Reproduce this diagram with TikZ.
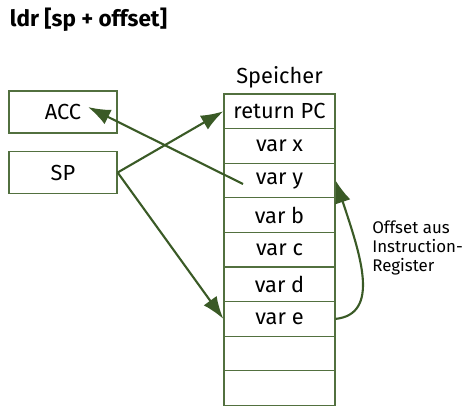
\documentclass[tikz,border=0pt]{standalone}
\usepackage{xcolor}
\usepackage{fontspec}
\setmainfont{Fira Sans}
\usetikzlibrary{arrows.meta,positioning}
\definecolor{arrgreen}{HTML}{3A5A26}
\definecolor{boxgreen}{HTML}{52703F}

\begin{document}
\begin{tikzpicture}[x=0.025cm,y=-0.025cm,
  regbox/.style={draw=boxgreen, line width=0.9pt, minimum width=2.7cm, minimum height=1.05cm, font=\fontsize{15.5}{17}\selectfont},
  cell/.style={draw=boxgreen, line width=0.9pt, minimum width=2.775cm, minimum height=0.865cm, inner sep=0pt, font=\fontsize{15.5}{17}\selectfont},
  ptr/.style={draw=arrgreen, line width=1.5pt, -{Latex[length=0.56cm,width=0.4cm]}}]
\useasboundingbox (0,0) rectangle (469,410);
\node[anchor=north west, font=\bfseries\fontsize{16}{18}\selectfont] (title) at (5,3) {ldr [sp + offset]};
\node[regbox] (acc) at (63,112) {ACC};
\node[regbox] (sp) at (63,172.5) {SP};
% Speicher
\foreach \i/\t in {1/return PC,2/var x,3/var y,4/var b,5/var c,6/var d,7/var e,8/{},9/{}}
  \node[cell] (m\i) at (279.5,{94+34.6*(\i-0.5)}) {\t};
\node[above=0pt of m1, font=\fontsize{15.5}{17}\selectfont] (speicher) {Speicher};
\node[anchor=north west, align=left, inner sep=0pt, font=\fontsize{12}{13.3}\selectfont] (offs) at (372,221) {Offset aus\\Instruction-\\Register};
\coordinate (ytail) at (243,184);
\coordinate (acctip) at (88,107);
\draw[ptr] (ytail) -- (acctip);
\draw[ptr] (sp.east) -- (m1.west);
\draw[ptr] (sp.east) -- (m7.west);
\draw[ptr] (m7.east) .. controls +(45,-5) and +(25,75) .. (m3.east);
\end{tikzpicture}
\end{document}
